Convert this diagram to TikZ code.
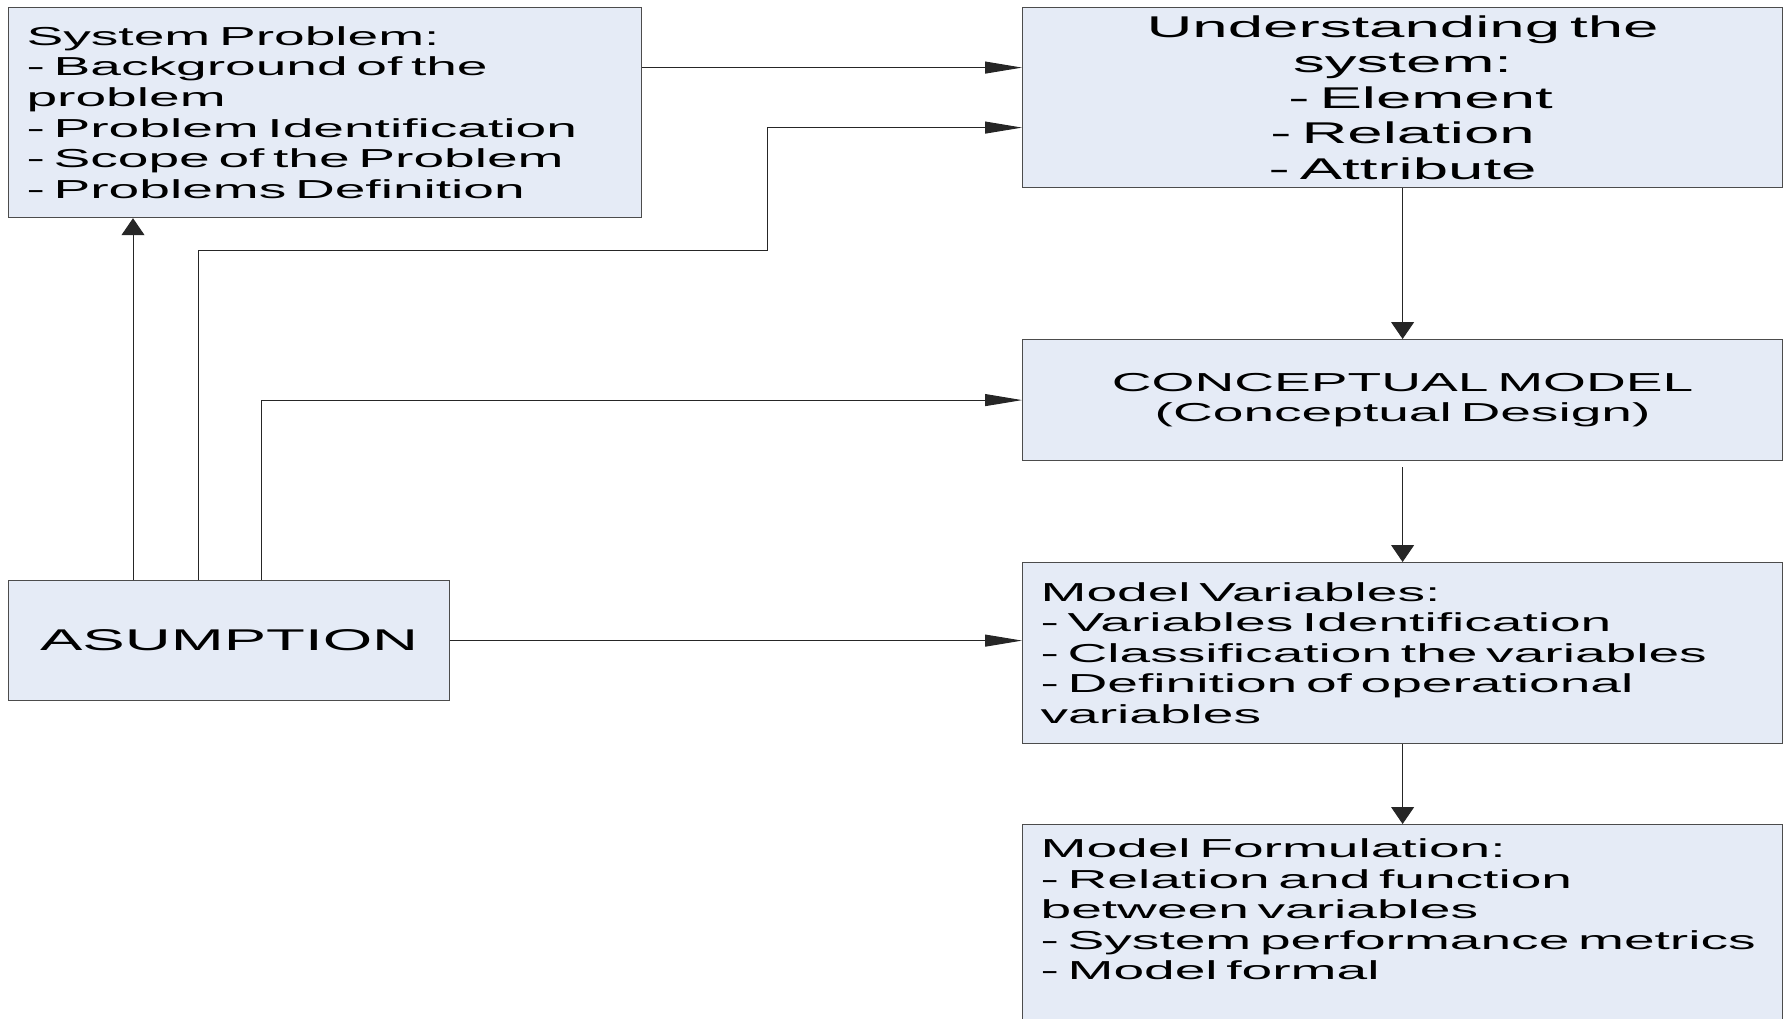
\documentclass[tikz,border=0pt]{standalone}
\usepackage{fontspec}
\setmainfont{Liberation Sans}[FakeStretch=2.12]
\usetikzlibrary{calc}
\usetikzlibrary{arrows.meta}
\definecolor{boxfill}{RGB}{229,235,246}
\tikzset{>=latex}
\tikzset{
  box/.style={draw=black!70, line width=1.2pt, fill=boxfill, inner xsep=18pt, inner ysep=0pt,
    anchor=north west, font=\fontsize{26}{30.6}\selectfont},
  bigtext/.style={font=\fontsize{30}{35.5}\selectfont},
  harrow/.style={-{Triangle[length=37pt,width=12pt]}, line width=1pt, draw=black!85},
  varrow/.style={-{Triangle[length=17pt,width=23pt]}, line width=1pt, draw=black!85}
}

\begin{document}
\begin{tikzpicture}[x=1pt,y=-1pt]
            \useasboundingbox (0,0) rectangle (1788,1019);
            \node[box, minimum width=633pt, minimum height=210pt, text width=597pt, align=left] (sysprob) at (8,7)
                {System Problem:\\- Background of the\\problem\\- Problem Identification\\- Scope of the Problem\\- Problems Definition};
            \node[box, bigtext, minimum width=760pt, minimum height=180pt, text width=724pt, align=center] (understand) at (1022,7)
                {Understanding the\\system:\\\hspace*{36pt}- Element\\- Relation\\- Attribute};
            \node[box, minimum width=760pt, minimum height=121pt, text width=724pt, align=center] (concept) at (1022,339)
                {CONCEPTUAL MODEL\\(Conceptual Design)};
            \node[box, minimum width=760pt, minimum height=181pt, text width=724pt, align=left] (modvar) at (1022,562)
                {Model Variables:\\- Variables Identification\\- Classification the variables\\- Definition of operational\\variables};
            \node[box, minimum width=760pt, text width=724pt, align=left, inner ysep=14pt] (modform) at (1022,824)
                {Model Formulation:\\- Relation and function\\between variables\\- System performance metrics\\- Model formal\\[60pt]\mbox{}};
            \node[box, bigtext, minimum width=441pt, minimum height=120pt, align=center] (asump) at (8,580) {ASUMPTION};
            % connectors
            \coordinate (sp out) at ([yshift=45pt]sysprob.east);
            \coordinate (un in) at ([yshift=-30pt]understand.west);
            \coordinate (as1) at ([xshift=125pt]asump.north west);
            \coordinate (as2) at ([xshift=190pt]asump.north west);
            \coordinate (as3) at ([xshift=253pt]asump.north west);
            \coordinate (bend) at (767,250);
            \draw[harrow] (sp out) -- (sp out -| understand.west);
            \draw[varrow] (as1) -- (as1 |- sysprob.south);
            \draw[harrow] (as2) |- (bend) |- (un in);
            \draw[harrow] (as3) |- (concept.west);
            \draw[harrow] (asump.east) -- (asump.east -| modvar.west);
            \draw[varrow] (understand.south) -- (concept.north);
            \draw[varrow, shorten <=6pt] (concept.south) -- (modvar.north);
            \draw[varrow] (modvar.south) -- (modform.north);
        \end{tikzpicture}
\end{document}
